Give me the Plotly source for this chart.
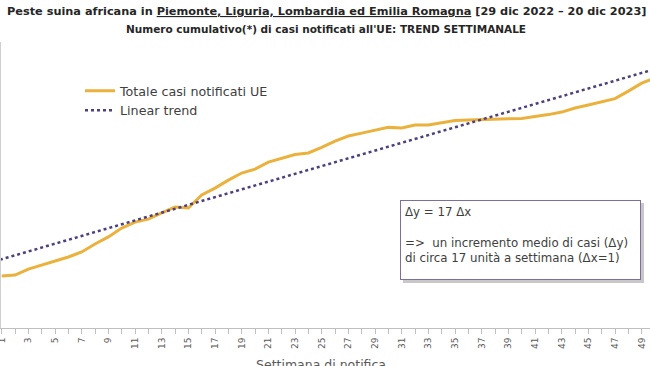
import numpy as np
import plotly.graph_objects as go

weeks = list(range(1, 51))
cases = [228, 232, 258, 276, 293, 311, 333, 368, 399, 438,
         464, 477, 504, 530, 526, 583, 613, 648, 679, 696,
         727, 745, 760, 767, 791, 819, 841, 854, 867, 879,
         876, 889, 889, 900, 909, 911, 914, 917, 917, 918,
         926, 935, 946, 964, 977, 990, 1005, 1038, 1073, 1095]
tick_weeks = list(range(1, 51, 2))
tick_labels = [str(w) for w in tick_weeks]

slope, intercept = np.polyfit(weeks, cases, 1)
trend_x = [0, 52]
trend_y = [intercept + slope * x for x in trend_x]

FONT = "DejaVu Sans"
fig = go.Figure()
fig.add_trace(go.Scatter(x=weeks, y=cases, mode="lines", name="Totale casi notificati UE",
                         line=dict(color="#EBB13D", width=3)))
fig.add_trace(go.Scatter(x=trend_x, y=trend_y, mode="lines", name="Linear trend",
                         line=dict(color="#4E3F7E", width=2.5, dash="dot")))

px_w = 13.333
x0 = 1 - 0.7 / px_w
x1 = 1 + (650 - 1.7) / px_w
H = 286
upp = 17 / 3.88
fig.update_layout(
    width=650, height=366,
    margin=dict(l=1, r=0, t=42, b=38, autoexpand=False),
    paper_bgcolor="white", plot_bgcolor="white",
    font=dict(family=FONT, color="#404040"),
    showlegend=True,
    legend=dict(x=(80 - 1) / 649, y=(328 - 76) / 286, xanchor="left", yanchor="top",
                font=dict(size=12.7, color="#404040"), bgcolor="rgba(0,0,0,0)",
                itemwidth=30, tracegroupgap=2),
    xaxis=dict(range=[x0, x1], tickmode="array", tickvals=tick_weeks, ticktext=tick_labels,
               tickangle=-90, ticks="outside", ticklen=5, tickcolor="#BFBFBF",
               tickfont=dict(size=9, color="#595959"), automargin=False,
               ticklabeloverflow="allow",
               minor=dict(tick0=1, dtick=1, ticks="outside", ticklen=5, tickcolor="#BFBFBF"),
               showline=True, linecolor="#BFBFBF", showgrid=False, zeroline=False),
    yaxis=dict(range=[0, H * upp], showticklabels=False, showgrid=False, zeroline=False,
               showline=True, linecolor="#D0D0D0", ticks="", automargin=False),
)

fig.add_annotation(xref="paper", yref="paper", x=(326 - 1) / 649, y=(328 - 3) / 286,
                   xanchor="center", yanchor="top", showarrow=False,
                   text='<b>Peste suina africana in <span style="text-decoration:underline">Piemonte, Liguria, Lombardia ed Emilia Romagna</span> [29 dic 2022 – 20 dic 2023]</b>',
                   font=dict(size=11.3, color="#262626"))
fig.add_annotation(xref="paper", yref="paper", x=0.5, y=(328 - 21) / 286,
                   xanchor="center", yanchor="top", showarrow=False,
                   text="<b>Numero cumulativo(*) di casi notificati all'UE: TREND SETTIMANALE</b>",
                   font=dict(size=10.5, color="#262626"))
fig.add_annotation(xref="paper", yref="paper", x=320 / 650, y=-(355 - 328) / 286,
                   xanchor="center", yanchor="top", showarrow=False,
                   text="Settimana di notifica", font=dict(size=12.5, color="#595959"))

# shadow behind text box
fig.add_shape(type="rect", xref="paper", yref="paper",
              x0=(403 - 1) / 649, x1=(644 - 1) / 649,
              y0=(328 - 283) / 286, y1=(328 - 203) / 286,
              fillcolor="#C8C8C8", line=dict(width=0), layer="above")
fig.add_annotation(xref="paper", yref="paper", x=(400 - 1) / 649, y=(328 - 200) / 286,
                   xanchor="left", yanchor="top", showarrow=False, align="left",
                   text="Δy = 17 Δx<br> <br>=>  un incremento medio di casi (Δy)<br>di circa 17 unità a settimana (Δx=1)",
                   font=dict(size=11.8, color="#404040"),
                   bgcolor="white", bordercolor="#7D6E9A", borderwidth=1, borderpad=4,
                   width=231, height=70, valign="top")

fig.write_html("out.html", config={"displayModeBar": False},
               post_script="document.body.style.margin='0';")
